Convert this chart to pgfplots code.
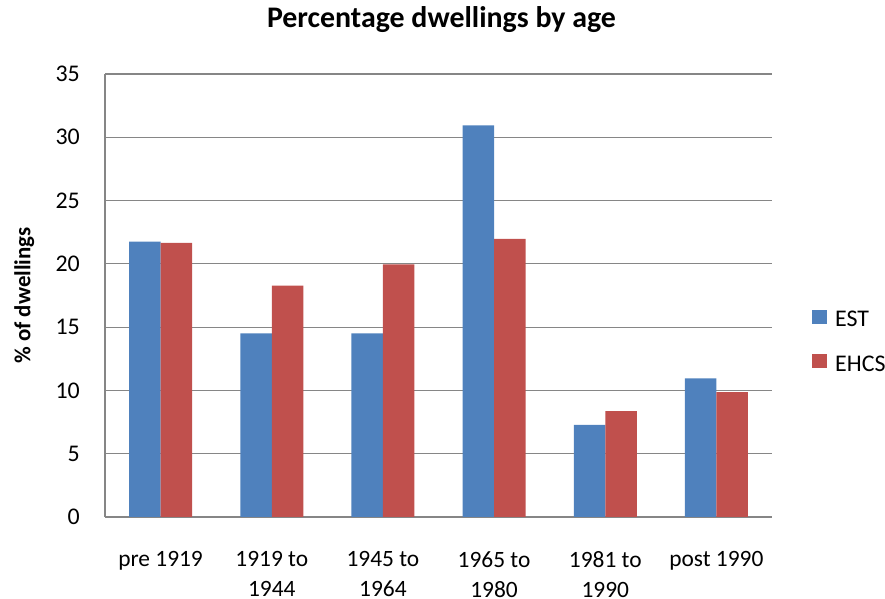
\documentclass[border=0pt]{standalone}
\usepackage{pgfplots}
\pgfplotsset{compat=1.18}
\usepackage{fontspec}
\setmainfont{Carlito}
\definecolor{estblue}{HTML}{4F81BD}
\definecolor{ehcsred}{HTML}{C0504D}
\definecolor{gridgray}{HTML}{868686}
\begin{document}
\begin{tikzpicture}
\useasboundingbox (0,0) rectangle (885bp,599bp);
\begin{axis}[
  at={(105bp,82bp)}, anchor=south west,
  scale only axis,
  width=667bp, height=443bp,
  ybar=0pt, bar width=31.5bp,
  ymin=0, ymax=35, ytick={0,5,...,35},
  xmin=-0.5, xmax=5.5,
  xtick={0,1,2,3,4,5},
  xticklabels={pre 1919,{1919 to\\1944},{1945 to\\1964},{1965 to\\1980},{1981 to\\1990},post 1990},
  x tick label style={align=center, font=\fontsize{23.5}{30}\selectfont, text=black, yshift=-27bp},
  y tick label style={font=\fontsize{24}{28}\selectfont, text=black, inner sep=0pt, xshift=-25bp},
  /pgf/number format/assume math mode=true,
  major x tick style={draw=none},
  ytick style={draw=none},
  ymajorgrids, grid style={gridgray, line width=1.2bp},
  axis x line*=bottom, axis y line*=left,
  axis line style={gridgray, line width=1.2bp, -},
  enlarge x limits=false,
  ylabel={\textbf{\% of dwellings}},
  ylabel style={font=\fontsize{23}{26}\selectfont, at={(-0.121,0.5)}, anchor=center},
  title={\textbf{Percentage dwellings by age}},
  title style={font=\fontsize{30}{34}\selectfont, at={(0.5045,1)}, anchor=base, yshift=41bp},
  legend style={draw=none, at={(1.06,0.4687)}, anchor=north west, inner sep=0pt,
    font=\fontsize{24}{28}\selectfont, row sep=26bp, legend cell align=left,
    nodes={inner sep=0pt},
    /tikz/every odd column/.append style={column sep=8bp}},
  legend image code/.code={\fill[#1] (0bp,-4bp) rectangle (15bp,10bp);},
]
\addplot[fill=estblue, draw=none] coordinates {(0,21.75) (1,14.5) (2,14.5) (3,30.95) (4,7.27) (5,10.96)};
\addplot[fill=ehcsred, draw=none] coordinates {(0,21.66) (1,18.28) (2,19.95) (3,21.97) (4,8.36) (5,9.86)};
\legend{EST,EHCS}
\end{axis}
\end{tikzpicture}
\end{document}
